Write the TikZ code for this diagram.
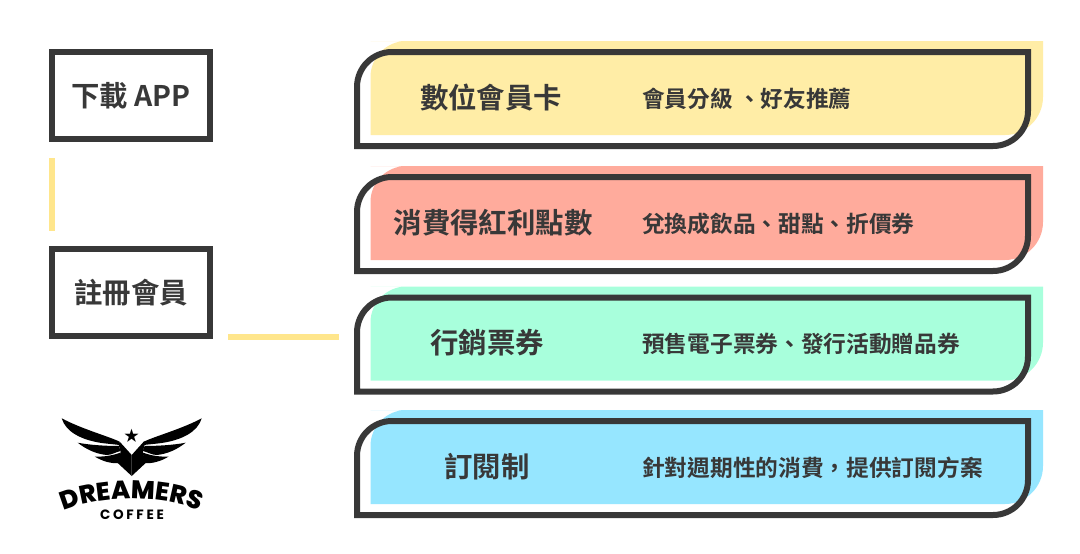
\documentclass[tikz,border=0pt]{standalone}
\usepackage{fontspec}
\setmainfont{Noto Sans CJK TC}[BoldFont={Noto Sans CJK TC Bold}]
\newfontfamily\logofont{Poppins ExtraBold}
\newfontfamily\coffeefont{Poppins Bold}[LetterSpace = 20]
\usetikzlibrary{decorations.text}
\definecolor{inkgray}{HTML}{383838}
\definecolor{barcolor}{HTML}{FFE68C}
\definecolor{cardyellow}{HTML}{FFEDA6}
\definecolor{cardred}{HTML}{FFAB9C}
\definecolor{cardgreen}{HTML}{A8FFDC}
\definecolor{cardblue}{HTML}{96E6FF}
\tikzset{
    stepbox/.style = {draw = inkgray, line width = 6pt, minimum width = 158pt, minimum height = 87pt, inner sep = 0pt, font = \fontsize{28.4}{30}\bfseries, text = inkgray},
    cardtitle/.style = {font = \fontsize{28.4}{30}\bfseries, text = inkgray, inner sep = 0pt},
    carddesc/.style = {font = \fontsize{22.7}{24}\bfseries, text = inkgray, inner sep = 0pt, anchor = west},
    bar/.style = {draw = barcolor, line width = 6pt},
    cardline/.style = {draw = inkgray, line width = 6pt}
}
% one card: top of the outline, fill colour, title centre, title, description
\newcommand{\drawcard}[5]{
    \fill [#2] (370.5, #1 - 8) -- (1043, #1 - 8) -- (1043, #1 + 48) arc [start angle = 0, end angle = 90, radius = 38] -- (370.5, #1 + 86) -- (370.5, #1 + 28) arc [start angle = 180, end angle = 270, radius = 36] -- cycle;
    \draw [cardline] (357, #1 + 97) -- (357, #1 + 38) arc [start angle = 180, end angle = 270, radius = 35] -- (1028, #1 + 3) -- (1028, #1 + 62) arc [start angle = 0, end angle = 90, radius = 35] -- cycle;
    \node [cardtitle] at (#3, #1 + 48.5) {#4};
    \node [carddesc] at (642, #1 + 49.5) {#5};
}
\begin{document}
\begin{tikzpicture}[x = 1pt, y = -1pt]
    \useasboundingbox (0, 0) rectangle (1080, 554);
    \fill [white] (0, 0) rectangle (1080, 554);

    \node [stepbox] (download) at (131, 95.5) {下載 APP};
    \node [stepbox] (register) at (131, 292.5) {註冊會員};

    \coordinate (barA) at (52, 158);
    \coordinate (barB) at (52, 231);
    \coordinate (barC) at (228, 336.5);
    \coordinate (barD) at (339, 336.5);
    \draw [bar] (barA) -- (barB);
    \draw [bar] (barC) -- (barD);

    \drawcard{49}{cardyellow}{491}{數位會員卡}{會員分級 、好友推薦}
    \drawcard{174}{cardred}{493}{消費得紅利點數}{兌換成飲品、甜點、折價券}
    \drawcard{294.5}{cardgreen}{487}{行銷票券}{預售電子票券、發行活動贈品券}
    \drawcard{418}{cardblue}{487}{訂閱制}{針對週期性的消費，提供訂閱方案}

    % logo
    \foreach \side in {1, -1} {
        \begin{scope}[xshift = 131.7pt, xscale = \side]
            \fill [black] (0, 476) -- (-14, 463) -- (-11, 452) -- (-13, 445) -- (-12, 441.7) -- (0, 455) -- cycle;
            \fill [black] (-70, 418.3) .. controls (-50, 429) and (-24, 436) .. (-12, 441.7) -- (-12, 445) .. controls (-16, 444.5) and (-22, 444) .. (-30, 443) .. controls (-50, 440) and (-66, 432) .. cycle;
            \fill [black] (-54, 442.7) .. controls (-42, 445) and (-26, 446) .. (-13, 446) -- (-11, 451) .. controls (-16, 452) and (-20, 455) .. (-25, 455) .. controls (-36, 454) and (-46, 449) .. cycle;
            \fill [black] (-37, 456.5) .. controls (-30, 457) and (-20, 456) .. (-11, 452.5) -- (-13, 463) .. controls (-20, 464) and (-30, 461) .. cycle;
        \end{scope}
    }
    \node [black, font = \fontsize{15}{15}\selectfont] (star) at (131.5, 436) {★};
    \path [decorate, decoration = {text along path, text align = center, text = {|\logofont\fontsize{25.5}{26}\selectfont|DREAMERS}}] (54, 516) .. controls (90, 493) and (173, 493) .. (209, 516);
    \node [black, font = \coffeefont\fontsize{13.5}{14}\selectfont] (coffee) at (132, 515) {COFFEE};
\end{tikzpicture}
\end{document}
